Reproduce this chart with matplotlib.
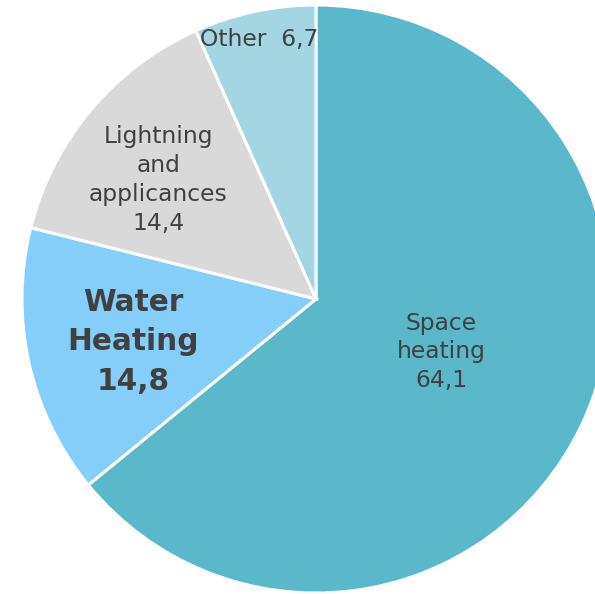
import matplotlib

matplotlib.use("Agg")

import matplotlib.pyplot as plt

# energy use shares in households (%)
labels = ["Space\nheating", "Water\nHeating", "Lightning\nand\napplicances", "Other"]
values = [64.1, 14.8, 14.4, 6.7]
colors = ["#5BB8CB", "#84CEF9", "#D9D9D9", "#A3D6E2"]


def fmt(v):
    return f"{v:.1f}".replace(".", ",")


def main():
    fig = plt.figure(figsize=(5.95, 5.94), dpi=100)
    ax = fig.add_axes([0, 0, 1, 1])

    ax.pie(
        values,
        colors=colors,
        startangle=90,
        counterclock=False,
        radius=1.0,
        wedgeprops=dict(edgecolor="white", linewidth=2.2),
    )

    # pie centre sits left of the figure centre, right edge is cut off
    ax.set_xlim(-1.0748, 0.949)
    ax.set_ylim(-1.0034, 1.017)
    ax.set_aspect("equal")
    ax.axis("off")

    txt = "#404040"
    ax.text(0.425, -0.180, f"{labels[0]}\n{fmt(values[0])}", ha="center", va="center",
            fontsize=16.8, color=txt, linespacing=1.32)
    ax.text(-0.622, -0.146, f"{labels[1]}\n{fmt(values[1])}", ha="center", va="center",
            fontsize=21.3, fontweight="bold", color=txt, linespacing=1.45)
    ax.text(-0.537, 0.405, f"{labels[2]}\n{fmt(values[2])}", ha="center", va="center",
            fontsize=16.8, color=txt, linespacing=1.32)
    ax.text(-0.194, 0.881, f"{labels[3]}  {fmt(values[3])}", ha="center", va="center",
            fontsize=16.8, color=txt)

    fig.savefig("out.png", dpi=100)


if __name__ == "__main__":
    main()
